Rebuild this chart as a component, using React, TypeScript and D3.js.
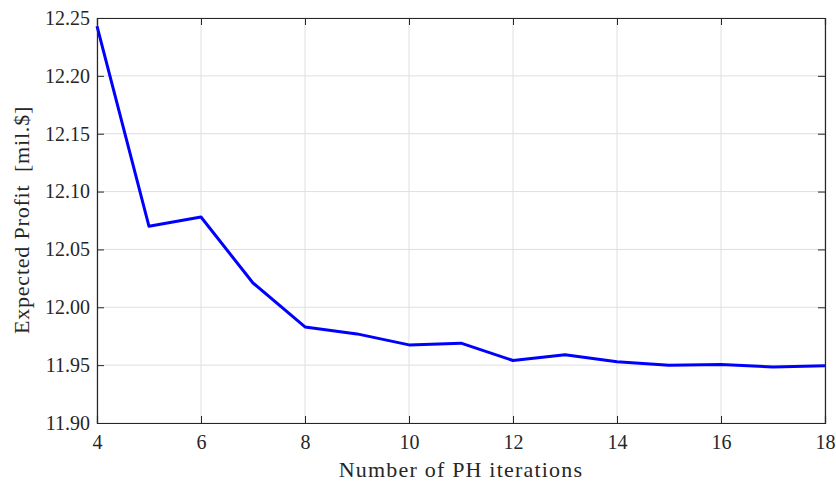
import { useRef, useEffect } from "react";
import * as d3 from "d3";

const iterations = [4, 5, 6, 7, 8, 9, 10, 11, 12, 13, 14, 15, 16, 17, 18];
const profit = [12.243, 12.07, 12.078, 12.021, 11.983, 11.977, 11.9675, 11.969, 11.954, 11.959, 11.953, 11.95, 11.9505, 11.9485, 11.9495];
const xTicks = [4, 6, 8, 10, 12, 14, 16, 18];
const yTicks = [11.9, 11.95, 12.0, 12.05, 12.1, 12.15, 12.2, 12.25];

const App = () => {
  const svgRef = useRef<SVGSVGElement>(null);

  useEffect(() => {
    const width = 836;
    const height = 483;
    const m = { left: 97, right: 11, top: 18, bottom: 60 };
    const font = "'Liberation Serif', serif";
    const axisColor = "#262626";

    const svg = d3.select(svgRef.current).attr("width", width).attr("height", height);
    svg.selectAll("*").remove();

    const x = d3.scaleLinear().domain([4, 18]).range([m.left, width - m.right]);
    const y = d3.scaleLinear().domain([11.9, 12.25]).range([height - m.bottom, m.top]);

    svg.append("rect")
      .attr("width", width).attr("height", height).attr("fill", "white");

    // grid
    const grid = svg.append("g");
    grid.selectAll(".gx")
      .data(xTicks)
      .join("line")
      .attr("x1", (d) => x(d)).attr("x2", (d) => x(d))
      .attr("y1", m.top).attr("y2", height - m.bottom)
      .attr("stroke", "#dfdfdf").attr("stroke-width", 1);
    grid.selectAll(".gy")
      .data(yTicks)
      .join("line")
      .attr("y1", (d) => y(d)).attr("y2", (d) => y(d))
      .attr("x1", m.left).attr("x2", width - m.right)
      .attr("stroke", "#dfdfdf").attr("stroke-width", 1);

    // line
    const line = d3.line<number>()
      .x((d, i) => x(iterations[i]))
      .y((d) => y(d));
    svg.append("path")
      .datum(profit)
      .attr("d", line)
      .attr("fill", "none")
      .attr("stroke", "#0000ff")
      .attr("stroke-width", 3)
      .attr("stroke-linejoin", "round");

    // axes (ticks inside, box)
    const tickLen = 7;
    const xAxis = d3.axisBottom(x).tickValues(xTicks).tickSize(-tickLen).tickPadding(12).tickFormat(d3.format("d"));
    const xAxisTop = d3.axisTop(x).tickValues(xTicks).tickSize(-tickLen).tickFormat(() => "");
    const yAxis = d3.axisLeft(y).tickValues(yTicks).tickSize(-tickLen).tickPadding(7).tickFormat(d3.format(".2f"));
    const yAxisRight = d3.axisRight(y).tickValues(yTicks).tickSize(-tickLen).tickFormat(() => "");

    const gx = svg.append("g").attr("transform", `translate(0,${height - m.bottom})`).call(xAxis);
    const gxt = svg.append("g").attr("transform", `translate(0,${m.top})`).call(xAxisTop);
    const gy = svg.append("g").attr("transform", `translate(${m.left},0)`).call(yAxis);
    const gyr = svg.append("g").attr("transform", `translate(${width - m.right},0)`).call(yAxisRight);

    [gx, gxt, gy, gyr].forEach((g) => {
      g.select(".domain").attr("stroke", axisColor).attr("stroke-width", 1.2);
      g.selectAll(".tick line").attr("stroke", axisColor).attr("stroke-width", 1);
      g.selectAll(".tick text")
        .attr("fill", axisColor)
        .style("font-family", font)
        .style("font-size", "20px");
    });

    // labels
    svg.append("text")
      .attr("x", (m.left + width - m.right) / 2)
      .attr("y", 477)
      .attr("text-anchor", "middle")
      .attr("fill", axisColor)
      .style("font-family", font)
      .style("font-size", "22px")
      .style("letter-spacing", "1.2px")
      .text("Number of PH iterations");

    svg.append("text")
      .attr("transform", `translate(29,220) rotate(-90)`)
      .attr("text-anchor", "middle")
      .attr("fill", axisColor)
      .style("font-family", font)
      .style("font-size", "22px")
      .style("letter-spacing", "0.8px")
      .style("white-space", "pre")
      .text("Expected Profit  [mil.$]");
  }, []);

  return (
    <div style={{ position: "absolute", left: 0, top: 0 }}>
      <svg ref={svgRef}></svg>
    </div>
  );
};

export default App;
